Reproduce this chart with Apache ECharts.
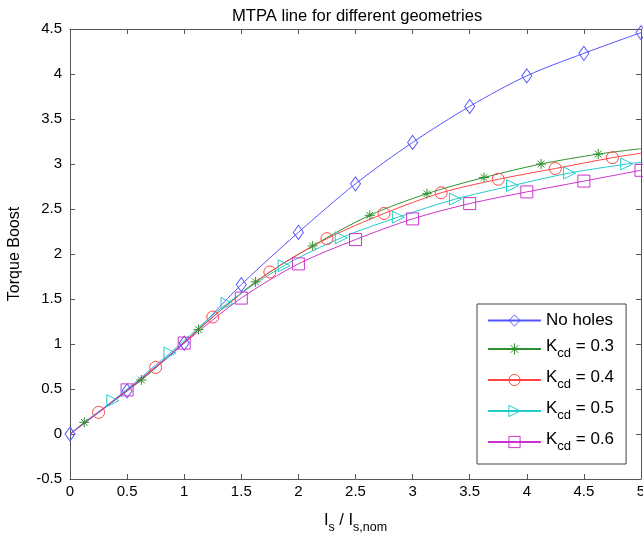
<!DOCTYPE html>
<html>
<head>
<meta charset="utf-8">
<script src="https://cdn.jsdelivr.net/npm/echarts@6/dist/echarts.min.js"></script>
<style>html,body{margin:0;padding:0;background:#fff}#c{width:643px;height:535px}</style>
</head>
<body>
<div id="c"></div>
<script>
// ---- Data ----
const seriesNames = ['No holes', 'K_cd = 0.3', 'K_cd = 0.4', 'K_cd = 0.5', 'K_cd = 0.6'];

// No holes (diamonds)
const noHolesX = [0, 0.5, 1, 1.5, 2, 2.5, 3, 3.5, 4, 4.5, 5];
const noHolesY = [0, 0.48, 1.01, 1.66, 2.24, 2.78, 3.24, 3.64, 3.98, 4.23, 4.46];

// Kcd = 0.3 (stars)
const k03X = [0, 0.125, 0.625, 1.125, 1.625, 2.125, 2.625, 3.125, 3.625, 4.125, 4.625, 5];
const k03Y = [0, 0.13, 0.60, 1.16, 1.69, 2.09, 2.43, 2.67, 2.85, 3.00, 3.11, 3.17];

// Kcd = 0.4 (circles)
const k04X = [0, 0.25, 0.75, 1.25, 1.75, 2.25, 2.75, 3.25, 3.75, 4.25, 4.75, 5];
const k04Y = [0, 0.24, 0.74, 1.30, 1.80, 2.17, 2.45, 2.68, 2.83, 2.95, 3.07, 3.12];

// Kcd = 0.5 (triangles)
const k05X = [0, 0.375, 0.875, 1.375, 1.875, 2.375, 2.875, 3.375, 3.875, 4.375, 4.875, 5];
const k05Y = [0, 0.37, 0.90, 1.45, 1.87, 2.18, 2.41, 2.61, 2.76, 2.90, 3.00, 3.02];

// Kcd = 0.6 (squares)
const k06X = [0, 0.5, 1, 1.5, 2, 2.5, 3, 3.5, 4, 4.5, 5];
const k06Y = [0, 0.49, 1.01, 1.51, 1.89, 2.16, 2.39, 2.56, 2.69, 2.81, 2.93];

// which points are line-only (no marker)
const noMarkerX = {
  'No holes': [],
  'K_cd = 0.3': [0, 5],
  'K_cd = 0.4': [0, 5],
  'K_cd = 0.5': [0, 5],
  'K_cd = 0.6': [0]
};

const xTicks = [0, 0.5, 1, 1.5, 2, 2.5, 3, 3.5, 4, 4.5, 5];
const yTicks = [-0.5, 0, 0.5, 1, 1.5, 2, 2.5, 3, 3.5, 4, 4.5];

// ---- Styles ----
const colors = ['#5555ff', '#2f8f2f', '#ff4444', '#22cccc', '#cc33cc'];
const symbols = [
  'diamond',
  'path://M5,0 L5,10 M0,5 L10,5 M1.6,1.6 L8.4,8.4 M8.4,1.6 L1.6,8.4',
  'circle',
  'path://M0,0 L10,5 L0,10 Z',
  'rect'
];
const symbolSizes = [[10, 14], 10, 12, 12, 12];

const xs = [noHolesX, k03X, k04X, k05X, k06X];
const ys = [noHolesY, k03Y, k04Y, k05Y, k06Y];

const FONT = '"Liberation Sans", Arial, Helvetica, sans-serif';

const series = seriesNames.map((name, i) => ({
  name: name,
  type: 'line',
  smooth: 0.3,
  xAxisIndex: 0,
  yAxisIndex: 0,
  symbol: symbols[i],
  symbolSize: symbolSizes[i],
  symbolKeepAspect: true,
  lineStyle: { color: colors[i], width: 1 },
  itemStyle: { color: 'rgba(255,255,255,0)', borderColor: colors[i], borderWidth: 1 },
  emphasis: { disabled: true },
  animation: false,
  data: xs[i].map((x, j) => {
    const item = { value: [x, ys[i][j]] };
    if (noMarkerX[name].indexOf(x) >= 0) item.symbol = 'none';
    return item;
  })
}));

const chart = echarts.init(document.getElementById('c'));

const legendRich = {
  k: { fontSize: 17, fontFamily: FONT, color: '#000', verticalAlign: 'top', padding: [0, 0, 0, 0] },
  sub: { fontSize: 13, fontFamily: FONT, color: '#000', verticalAlign: 'top', padding: [9, 0, 0, 0] }
};

chart.setOption({
  animation: false,
  title: {
    text: 'MTPA line for different geometries',
    left: 227,
    top: 3,
    textStyle: { fontFamily: FONT, fontSize: 16.6, fontWeight: 'normal', color: '#000' }
  },
  grid: { left: 70, right: 2, top: 29, bottom: 56, containLabel: false, outerBoundsMode: 'none' },
  legend: {
    orient: 'vertical',
    left: 477,
    top: 304,
    padding: [8, 12, 11, 10],
    itemWidth: 53,
    itemHeight: 14,
    itemGap: 9,
    borderColor: '#444',
    borderWidth: 1,
    backgroundColor: '#fff',
    selectedMode: false,
    itemStyle: { color: 'rgba(255,255,255,0)', borderWidth: 1 },
    data: seriesNames.map((n, i) => ({
      name: n,
      itemStyle: { color: 'rgba(255,255,255,0)', borderColor: colors[i], borderWidth: 1 }
    })),
    formatter: function (name) {
      if (name.indexOf('K_cd') === 0) {
        return '{k|K}{sub|cd}{k|' + name.replace('K_cd', '') + '}';
      }
      return '{k|' + name + '}';
    },
    textStyle: { fontFamily: FONT, fontSize: 17, color: '#000', rich: legendRich }
  },
  xAxis: [
    {
      type: 'value', min: 0, max: 5, interval: 0.5,
      position: 'bottom',
      name: '{i|I}{s|s}{i| / I}{s|s,nom}',
      nameLocation: 'middle',
      nameGap: 33,
      nameTextStyle: {
        rich: {
          i: { fontSize: 16.5, fontFamily: FONT, color: '#000', verticalAlign: 'top' },
          s: { fontSize: 12.5, fontFamily: FONT, color: '#000', verticalAlign: 'top', padding: [9, 0, 0, 0] }
        }
      },
      axisLine: { show: true, onZero: false, lineStyle: { color: '#555', width: 1 } },
      axisTick: { show: true, inside: true, length: 5, lineStyle: { color: '#555' } },
      axisLabel: {
        margin: 5, fontFamily: FONT, fontSize: 15, color: '#000',
        formatter: function (v) { return String(v); }
      },
      splitLine: { show: false }
    },
    {
      type: 'value', min: 0, max: 5, interval: 0.5,
      position: 'top',
      axisLine: { show: true, onZero: false, lineStyle: { color: '#555', width: 1 } },
      axisTick: { show: true, inside: true, length: 5, lineStyle: { color: '#555' } },
      axisLabel: { show: false },
      splitLine: { show: false }
    }
  ],
  yAxis: [
    {
      type: 'value', min: -0.5, max: 4.5, interval: 0.5,
      position: 'left',
      name: 'Torque Boost',
      nameLocation: 'middle',
      nameGap: 47,
      nameTextStyle: { fontFamily: FONT, fontSize: 16, color: '#000' },
      axisLine: { show: true, onZero: false, lineStyle: { color: '#555', width: 1 } },
      axisTick: { show: true, inside: true, length: 5, lineStyle: { color: '#555' } },
      axisLabel: { margin: 8, fontFamily: FONT, fontSize: 15, color: '#000' },
      splitLine: { show: false }
    },
    {
      type: 'value', min: -0.5, max: 4.5, interval: 0.5,
      position: 'right',
      axisLine: { show: true, onZero: false, lineStyle: { color: '#555', width: 1 } },
      axisTick: { show: true, inside: true, length: 5, lineStyle: { color: '#555' } },
      axisLabel: { show: false },
      splitLine: { show: false }
    }
  ],
  series: series
});
</script>
</body>
</html>
